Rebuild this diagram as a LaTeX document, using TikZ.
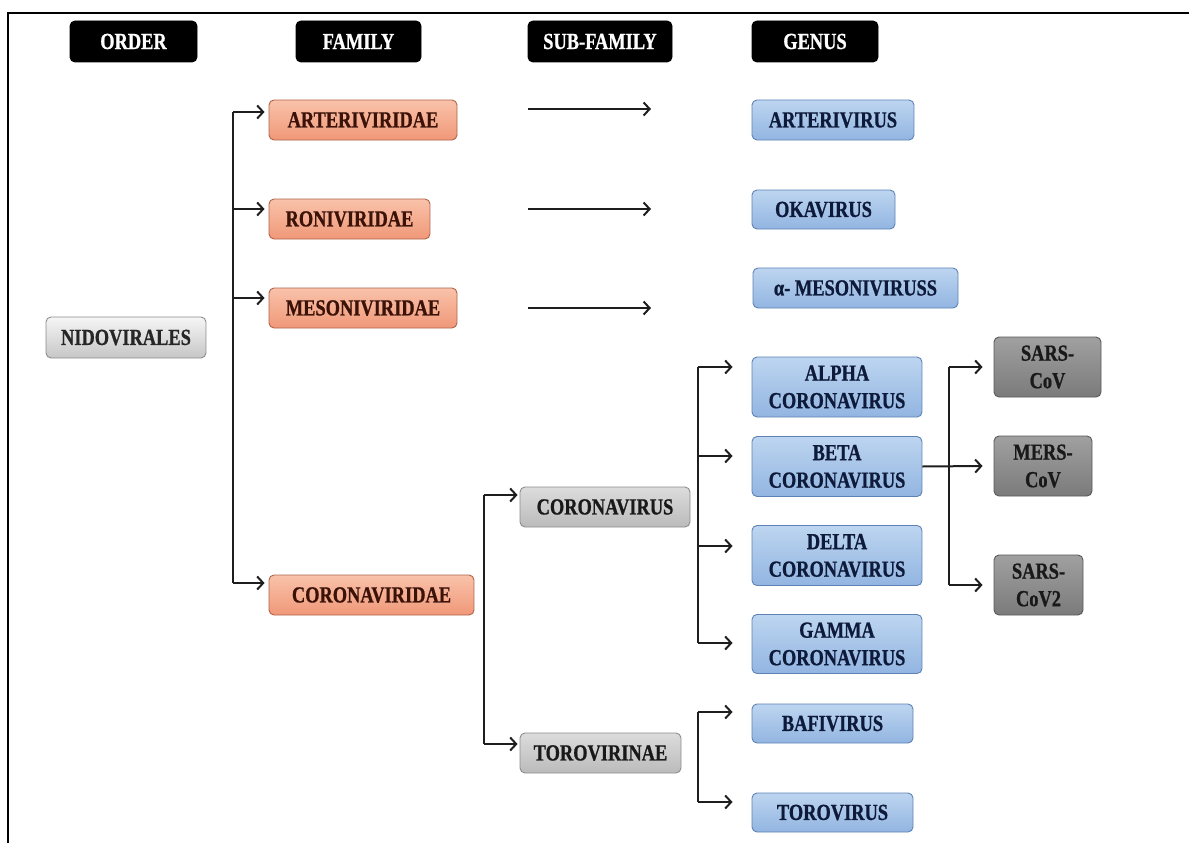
\documentclass[tikz,border=0pt]{standalone}
\usepackage{fontspec}
\newfontfamily\labelfont{Liberation Serif}[FakeStretch=0.8, FakeBold=0.8]
\usetikzlibrary{arrows.meta}

\definecolor{famtop}{HTML}{F9C2AA}
\definecolor{fambot}{HTML}{F09878}
\definecolor{famdraw}{HTML}{B0634A}
\definecolor{famtext}{HTML}{3A1208}
\definecolor{gentop}{HTML}{BDD5F0}
\definecolor{genbot}{HTML}{92B5E1}
\definecolor{gendraw}{HTML}{5E82B5}
\definecolor{gentext}{HTML}{0E1A3A}
\definecolor{subtop}{HTML}{DCDCDC}
\definecolor{subbot}{HTML}{BBBBBB}
\definecolor{subdraw}{HTML}{8C8C8C}
\definecolor{spctop}{HTML}{A0A0A0}
\definecolor{spcbot}{HTML}{7B7B7B}
\definecolor{spcdraw}{HTML}{595959}
\definecolor{ordtop}{HTML}{F6F6F6}
\definecolor{ordbot}{HTML}{C6C6C6}
\definecolor{linec}{HTML}{1E1E1E}

\tikzset{
  box/.style={rectangle, rounded corners=5pt, inner sep=0pt, line width=0.9pt,
    minimum height=40pt, align=center,
    font=\labelfont\bfseries\fontsize{23}{27.5}\selectfont},
  hdr/.style={box, fill=black, draw=black, text=white, minimum height=41pt},
  ordbox/.style={box, top color=ordtop, bottom color=ordbot, draw=subdraw, text=black!85},
  fambox/.style={box, top color=famtop, bottom color=fambot, draw=famdraw, text=famtext},
  genbox/.style={box, top color=gentop, bottom color=genbot, draw=gendraw, text=gentext},
  subbox/.style={box, top color=subtop, bottom color=subbot, draw=subdraw, text=black!90},
  spcbox/.style={box, top color=spctop, bottom color=spcbot, draw=spcdraw, text=black!90},
  link/.style={draw=linec, line width=2pt},
  arr/.style={link, -{Straight Barb[length=6pt,width=13pt,line width=2pt]}},
}

\begin{document}
\begin{tikzpicture}[x=1pt, y=-1pt]
\useasboundingbox (0,0) rectangle (1189,843);

% frame along the top and the left edge
\draw[line width=2.2pt] (8,843) -- (8,13) -- (1189,13);

% column headers
\node[hdr, minimum width=127pt] (hord) at (133.5,41.5) {ORDER};
\node[hdr, minimum width=125pt] (hfam) at (358.5,41.5) {FAMILY};
\node[hdr, minimum width=144pt] (hsub) at (600,41.5) {SUB-FAMILY};
\node[hdr, minimum width=126pt] (hgen) at (815,41.5) {GENUS};

% order
\node[ordbox, minimum width=160pt, minimum height=41pt] (ord) at (126,337.5) {NIDOVIRALES};

% families
\node[fambox, minimum width=188pt] (fa) at (363,120) {ARTERIVIRIDAE};
\node[fambox, minimum width=161pt] (fb) at (349.5,219) {RONIVIRIDAE};
\node[fambox, minimum width=188pt] (fc) at (363,308) {MESONIVIRIDAE};
\node[fambox, minimum width=205pt] (fd) at (371.5,595) {CORONAVIRIDAE};

% sub-families
\node[subbox, minimum width=170pt] (cv) at (605,507) {CORONAVIRUS};
\node[subbox, minimum width=161pt] (tv) at (600.5,753) {TOROVIRINAE};

% genera
\node[genbox, minimum width=162pt] (ga) at (833,120) {ARTERIVIRUS};
\node[genbox, minimum width=143pt, minimum height=39pt] (gb) at (823.5,209.5) {OKAVIRUS};
\node[genbox, minimum width=205pt] (gc) at (855.5,288) {α- MESONIVIRUSS};
\node[genbox, minimum width=170pt, minimum height=60pt] (g1) at (837,387) {ALPHA\\CORONAVIRUS};
\node[genbox, minimum width=170pt, minimum height=60pt] (g2) at (837,466.5) {BETA\\CORONAVIRUS};
\node[genbox, minimum width=170pt, minimum height=60pt] (g3) at (837,555.5) {DELTA\\CORONAVIRUS};
\node[genbox, minimum width=170pt, minimum height=59pt] (g4) at (837,644) {GAMMA\\CORONAVIRUS};
\node[genbox, minimum width=161pt, minimum height=39pt] (g5) at (832.5,723.5) {BAFIVIRUS};
\node[genbox, minimum width=161pt, minimum height=39pt] (g6) at (832.5,812.5) {TOROVIRUS};

% species
\node[spcbox, minimum width=107pt, minimum height=60pt] (s1) at (1047.5,367) {SARS-\\CoV};
\node[spcbox, minimum width=98pt, minimum height=60pt] (s2) at (1043,466) {MERS-\\CoV};
\node[spcbox, minimum width=89pt, minimum height=60pt] (s3) at (1038.5,585) {SARS-\\CoV2};

% trunk positions of the brackets
\coordinate (famx) at (233,0);
\coordinate (subx) at (484,0);
\coordinate (genx) at (698,0);
\coordinate (spcx) at (949,0);

% order -> families
\coordinate (pa) at ([yshift=8pt,xshift=-4pt]fa.west);
\coordinate (pb) at ([yshift=10pt,xshift=-4pt]fb.west);
\coordinate (pc) at ([yshift=10pt,xshift=-4pt]fc.west);
\coordinate (pd) at ([yshift=12pt,xshift=-4pt]fd.west);
\draw[link] (pa -| famx) -- (pd -| famx);
\foreach \p in {pa,pb,pc,pd} \draw[arr] (\p -| famx) -- (\p);

% plain arrows across the sub-family column
\coordinate (ra1) at (528,109);  \coordinate (ra2) at (651,109);
\coordinate (rb1) at (528,209);  \coordinate (rb2) at (651,209);
\coordinate (rc1) at (528,308);  \coordinate (rc2) at (651,308);
\draw[arr] (ra1) -- (ra2);
\draw[arr] (rb1) -- (rb2);
\draw[arr] (rc1) -- (rc2);

% coronaviridae -> sub-families
\coordinate (qa) at ([yshift=12pt,xshift=-2pt]cv.west);
\coordinate (qb) at ([yshift=9pt,xshift=-2pt]tv.west);
\draw[link] (qa -| subx) -- (qb -| subx);
\foreach \p in {qa,qb} \draw[arr] (\p -| subx) -- (\p);

% coronavirus -> genera
\coordinate (k1) at ([yshift=20pt,xshift=-19pt]g1.west);
\coordinate (k2) at ([yshift=10.5pt,xshift=-19pt]g2.west);
\coordinate (k3) at ([yshift=9.5pt,xshift=-19pt]g3.west);
\coordinate (k4) at ([yshift=1pt,xshift=-19pt]g4.west);
\draw[link] (k1 -| genx) -- (k4 -| genx);
\foreach \p in {k1,k2,k3,k4} \draw[arr] (\p -| genx) -- (\p);

% torovirinae -> genera
\coordinate (t1) at ([yshift=11.5pt,xshift=-19pt]g5.west);
\coordinate (t2) at ([yshift=10.5pt,xshift=-19pt]g6.west);
\draw[link] (t1 -| genx) -- (t2 -| genx);
\foreach \p in {t1,t2} \draw[arr] (\p -| genx) -- (\p);

% beta coronavirus -> species
\coordinate (m1) at ([xshift=-11pt]s1.west);
\coordinate (m2) at ([xshift=-11pt]s2.west);
\coordinate (m3) at ([xshift=-11pt]s3.west);
\draw[link] (m1 -| spcx) -- (m3 -| spcx);
\draw[arr] (m1 -| spcx) -- (m1);
\draw[arr] (m3 -| spcx) -- (m3);
\draw[arr] (g2.east) -- (m2);
\end{tikzpicture}
\end{document}
